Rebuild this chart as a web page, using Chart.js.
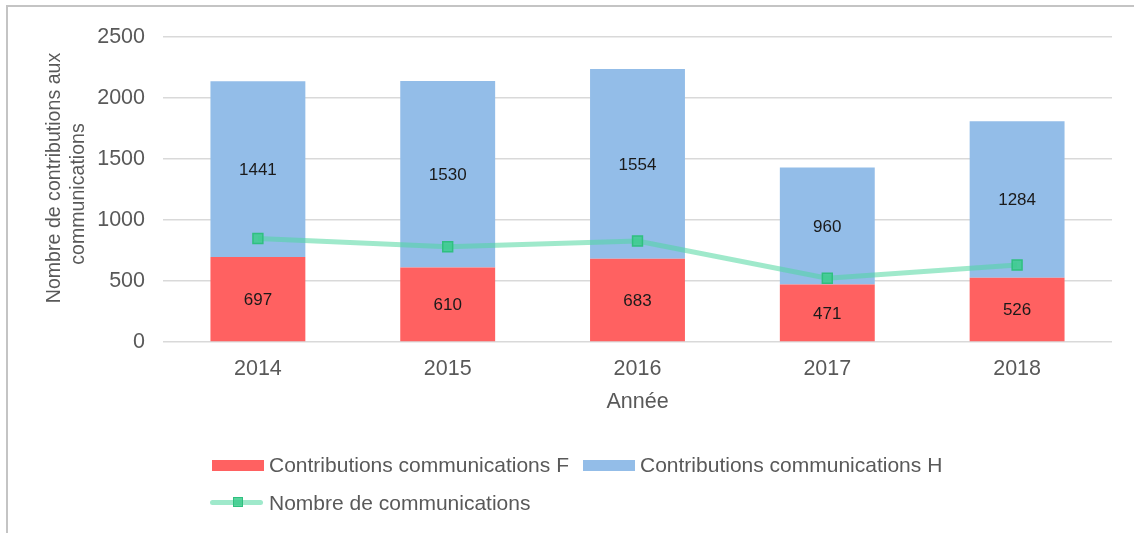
<!DOCTYPE html>
<html>
<head>
<meta charset="utf-8">
<script src="https://cdn.jsdelivr.net/npm/chart.js@4.4.0/dist/chart.umd.min.js"></script>
<style>
  html, body { margin: 0; padding: 0; background: #fff; }
  body { width: 1134px; height: 533px; position: relative; overflow: hidden; font-family: "Liberation Sans", Arial, sans-serif; }
  #frame { position: absolute; left: 6px; top: 5px; width: 1200px; height: 600px; border-top: 2px solid #c4c4c4; border-left: 2px solid #c4c4c4; }
  #wrap { position: absolute; left: 0; top: 0; width: 1134px; height: 533px; }
  .leg { position: absolute; font-size: 21px; color: #595959; white-space: nowrap; line-height: 24px; }
  .box { position: absolute; height: 11px; width: 52px; }
  .ltxt { position: absolute; }
</style>
</head>
<body>
<div id="frame"></div>
<div id="wrap"><canvas id="c" width="1134" height="533"></canvas></div>
<div id="legend"></div>
<script>
const categories = ["2014", "2015", "2016", "2017", "2018"];
const contribF = [697, 610, 683, 471, 526];
const contribH = [1441, 1530, 1554, 960, 1284];
const nbCommunications = [848, 781, 828, 522, 631];
const seriesNames = ["Contributions communications F", "Contributions communications H", "Nombre de communications"];
const yTitle = ["Nombre de contributions aux", "communications"];
const xTitle = "Année";

const RED = "#FF6161";
const BLUE = "#93BDE8";
const LINE = "rgba(80, 215, 160, 0.55)";
const FONT = "'Liberation Sans', Arial, sans-serif";
const GRAY = "#595959";

const labelPlugin = {
  id: "segLabels",
  afterDatasetsDraw(chart) {
    const ctx = chart.ctx;
    ctx.save();
    ctx.font = "17px " + FONT;
    ctx.fillStyle = "#1a1a1a";
    ctx.textAlign = "center";
    ctx.textBaseline = "middle";
    [0, 1].forEach(di => {
      const meta = chart.getDatasetMeta(di);
      meta.data.forEach((bar, i) => {
        const p = bar.getProps(["x", "y", "base"], true);
        ctx.fillText(String(chart.data.datasets[di].data[i]), p.x, (p.y + p.base) / 2 + 1);
      });
    });
    ctx.restore();
  }
};

const yTitlePlugin = {
  id: "yTitle",
  afterDraw(chart) {
    const ctx = chart.ctx;
    const lines = [[yTitle[0], 55, 178], [yTitle[1], 79, 194]];
    lines.forEach(([txt, x, y]) => {
      ctx.save();
      ctx.font = "19.6px " + FONT;
      ctx.fillStyle = GRAY;
      ctx.textAlign = "center";
      ctx.textBaseline = "middle";
      ctx.translate(x, y);
      ctx.rotate(-Math.PI / 2);
      ctx.fillText(txt, 0, 0);
      ctx.restore();
    });
  }
};

new Chart(document.getElementById("c"), {
  data: {
    labels: categories,
    datasets: [
      { type: "bar", label: seriesNames[0], data: contribF, backgroundColor: RED, stack: "contrib", order: 2,
        barPercentage: 0.5, categoryPercentage: 1 },
      { type: "bar", label: seriesNames[1], data: contribH, backgroundColor: BLUE, stack: "contrib", order: 2,
        barPercentage: 0.5, categoryPercentage: 1 },
      { type: "line", label: seriesNames[2], data: nbCommunications, stack: "line", order: 0,
        borderColor: LINE, borderWidth: 5, tension: 0,
        pointStyle: "rect", pointRadius: 7, pointHoverRadius: 7,
        pointBackgroundColor: "rgba(60, 205, 140, 0.85)", pointBorderColor: "#2fc07f", pointBorderWidth: 1.5 }
    ]
  },
  options: {
    responsive: false,
    animation: false,
    events: [],
    layout: { padding: { top: 37, right: 22, left: 0, bottom: 111 } },
    plugins: { legend: { display: false }, tooltip: { enabled: false } },
    scales: {
      x: {
        stacked: true,
        grid: { display: false, drawTicks: false },
        border: { display: false },
        ticks: { padding: 14, color: GRAY, font: { family: FONT, size: 21.5 } },
        title: { display: true, text: xTitle, color: GRAY, font: { family: FONT, size: 21.5 }, padding: { top: 4, bottom: 7 } },
        afterFit(s) { s.height = 80; }
      },
      y: {
        stacked: true,
        min: 0, max: 2500,
        ticks: { stepSize: 500, padding: 18, color: GRAY, font: { family: FONT, size: 21.5 },
                 callback: v => String(v) },
        grid: { color: "#d9d9d9", lineWidth: 1.5, drawTicks: false },
        border: { display: false },
        afterFit(s) { s.width = 163; }
      }
    }
  },
  plugins: [labelPlugin, yTitlePlugin]
});

// Legend (HTML)
const legend = document.getElementById("legend");
function addItem(x, y, name, kind) {
  const el = document.createElement("div");
  el.className = "leg";
  el.style.left = x + "px";
  el.style.top = (y - 12) + "px";
  if (kind === "line") {
    const ln = document.createElement("div");
    ln.style.cssText = "position:absolute;left:0;top:9px;width:53px;height:5px;border-radius:3px;background:" + LINE;
    const mk = document.createElement("div");
    mk.style.cssText = "position:absolute;left:23px;top:6px;width:8px;height:8px;background:rgba(60,205,140,0.85);border:1.5px solid #2fc07f";
    el.appendChild(ln); el.appendChild(mk);
  } else {
    const b = document.createElement("div");
    b.className = "box";
    b.style.left = "2px"; b.style.top = "7px";
    b.style.background = kind;
    el.appendChild(b);
  }
  const t = document.createElement("span");
  t.className = "ltxt";
  t.style.left = "59px"; t.style.top = "0px";
  t.textContent = name;
  el.appendChild(t);
  legend.appendChild(el);
}
addItem(210, 465, seriesNames[0], RED);
addItem(581, 465, seriesNames[1], BLUE);
addItem(210, 503, seriesNames[2], "line");
</script>
</body>
</html>
